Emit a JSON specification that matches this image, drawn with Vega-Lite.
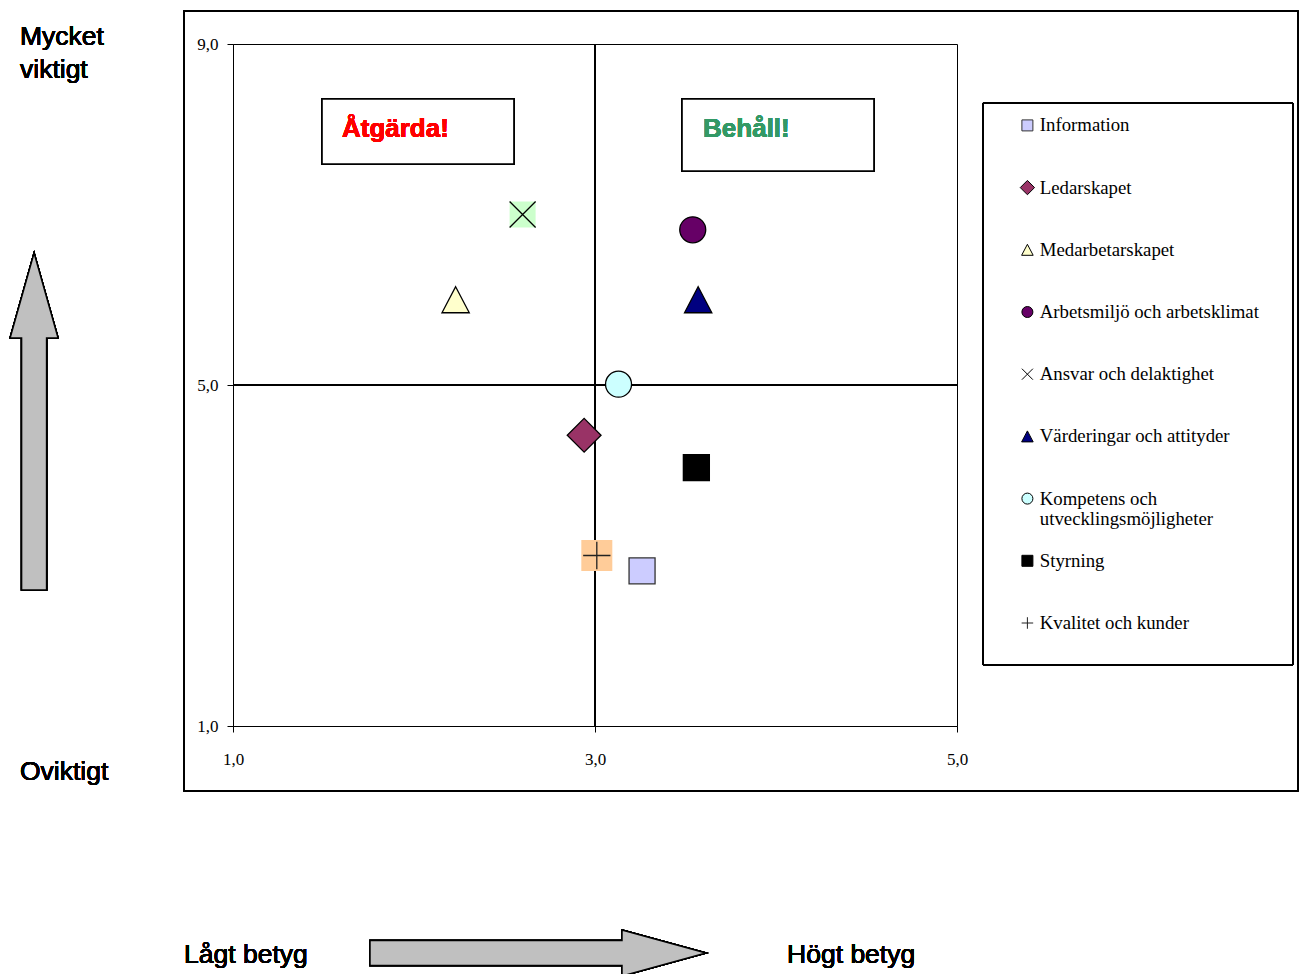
{
  "$schema": "https://vega.github.io/schema/vega-lite/v6.json",
  "autosize": {"type": "none"},
  "width": 724,
  "height": 682,
  "padding": {"left": 233, "top": 44, "right": 343, "bottom": 248},
  "background": "white",
  "config": {
    "view": {"stroke": "black", "strokeWidth": 1},
    "axis": {
      "grid": false,
      "domainColor": "black",
      "tickColor": "black",
      "labelColor": "black",
      "labelFont": "Liberation Serif",
      "labelFontSize": 17,
      "labelFlush": false,
      "title": null
    },
    "legend": {
      "orient": "none",
      "legendX": 785,
      "legendY": 72,
      "title": null,
      "padding": 0,
      "labelFont": "Liberation Serif",
      "labelFontSize": 18.8,
      "labelColor": "black",
      "labelLimit": 400,
      "labelOffset": 3,
      "symbolSize": 121,
      "symbolStrokeWidth": 1,
      "rowPadding": 22.2,
      "gridAlign": "all"
    }
  },
  "data": {
    "values": [
      {"name": "Information", "betyg": 3.26, "vikt": 2.82},
      {"name": "Ledarskapet", "betyg": 2.94, "vikt": 4.41},
      {"name": "Medarbetarskapet", "betyg": 2.23, "vikt": 6.0},
      {"name": "Arbetsmiljö och arbetsklimat", "betyg": 3.54, "vikt": 6.82},
      {"name": "Ansvar och delaktighet", "betyg": 2.6, "vikt": 7.0},
      {"name": "Värderingar och attityder", "betyg": 3.57, "vikt": 6.0},
      {"name": "Kompetens och utvecklingsmöjligheter", "betyg": 3.13, "vikt": 5.01},
      {"name": "Styrning", "betyg": 3.56, "vikt": 4.03},
      {"name": "Kvalitet och kunder", "betyg": 3.01, "vikt": 3.0}
    ]
  },
  "layer": [
    {
      "mark": {"type": "rect", "fill": null, "stroke": "black", "strokeWidth": 1.2},
      "encoding": {
        "x": {"datum": 0.729, "type": "quantitative", "scale": {"domain": [1, 5], "nice": false, "zero": false}, "axis": {"values": [1, 3, 5], "tickSize": 6, "labelPadding": 19, "labelExpr": "replace(format(datum.value, '.1f'), '.', ',')"}},
        "x2": {"datum": 6.884},
        "y": {"datum": 9.387, "type": "quantitative", "scale": {"domain": [1, 9], "nice": false, "zero": false}, "axis": {"values": [1, 5, 9], "tickSize": 6, "labelPadding": 9, "labelExpr": "replace(format(datum.value, '.1f'), '.', ',')"}},
        "y2": {"datum": 0.238}
      }
    },
    {
      "mark": {"type": "rect", "fill": null, "stroke": "black", "strokeWidth": 1},
      "encoding": {
        "x": {"datum": 5.1436, "type": "quantitative"},
        "x2": {"datum": 6.856},
        "y": {"datum": 8.308, "type": "quantitative"},
        "y2": {"datum": 1.716}
      }
    },
    {
      "mark": {"type": "rule", "color": "black", "strokeWidth": 1},
      "encoding": {
        "x": {"datum": 3, "type": "quantitative"},
        "y": {"datum": 1, "type": "quantitative"},
        "y2": {"datum": 9}
      }
    },
    {
      "mark": {"type": "rule", "color": "black", "strokeWidth": 1},
      "encoding": {
        "y": {"datum": 5, "type": "quantitative"},
        "x": {"datum": 1, "type": "quantitative"},
        "x2": {"datum": 5}
      }
    },
    {
      "mark": {"type": "rect", "fill": "white", "stroke": "black", "strokeWidth": 1.5},
      "encoding": {
        "x": {"datum": 1.492, "type": "quantitative"},
        "x2": {"datum": 2.552},
        "y": {"datum": 8.355, "type": "quantitative"},
        "y2": {"datum": 7.592}
      }
    },
    {
      "mark": {"type": "rect", "fill": "white", "stroke": "black", "strokeWidth": 1.5},
      "encoding": {
        "x": {"datum": 3.481, "type": "quantitative"},
        "x2": {"datum": 4.541},
        "y": {"datum": 8.355, "type": "quantitative"},
        "y2": {"datum": 7.51}
      }
    },
    {
      "mark": {"type": "text", "text": "Åtgärda!", "color": "#FF0000", "font": "Liberation Sans", "fontSize": 26, "fontWeight": "bold", "align": "left", "baseline": "alphabetic"},
      "encoding": {
        "x": {"datum": 1.602, "type": "quantitative"},
        "y": {"datum": 7.909, "type": "quantitative"}
      }
    },
    {
      "mark": {"type": "text", "text": "Behåll!", "color": "#339966", "font": "Liberation Sans", "fontSize": 26, "fontWeight": "bold", "align": "left", "baseline": "alphabetic"},
      "encoding": {
        "x": {"datum": 3.597, "type": "quantitative"},
        "y": {"datum": 7.909, "type": "quantitative"}
      }
    },
    {
      "mark": {"type": "text", "text": ["Mycket", "viktigt"], "lineHeight": 33, "color": "black", "font": "Liberation Sans", "fontSize": 26.5, "fontWeight": "normal", "align": "left", "baseline": "alphabetic"},
      "encoding": {
        "x": {"datum": -0.1768, "type": "quantitative"},
        "y": {"datum": 8.988, "type": "quantitative"}
      }
    },
    {
      "mark": {"type": "text", "text": "Oviktigt", "color": "black", "font": "Liberation Sans", "fontSize": 26.5, "fontWeight": "normal", "align": "left", "baseline": "alphabetic"},
      "encoding": {
        "x": {"datum": -0.1768, "type": "quantitative"},
        "y": {"datum": 0.367, "type": "quantitative"}
      }
    },
    {
      "mark": {"type": "text", "text": "Lågt betyg", "color": "black", "font": "Liberation Sans", "fontSize": 26.5, "fontWeight": "normal", "align": "left", "baseline": "alphabetic"},
      "encoding": {
        "x": {"datum": 0.7293, "type": "quantitative"},
        "y": {"datum": -1.78, "type": "quantitative"}
      }
    },
    {
      "mark": {"type": "text", "text": "Högt betyg", "color": "black", "font": "Liberation Sans", "fontSize": 26.5, "fontWeight": "normal", "align": "left", "baseline": "alphabetic"},
      "encoding": {
        "x": {"datum": 4.061, "type": "quantitative"},
        "y": {"datum": -1.78, "type": "quantitative"}
      }
    },
    {
      "mark": {"type": "point", "filled": true, "fill": "#C0C0C0", "stroke": "black", "strokeWidth": 1.5, "opacity": 1, "size": 113569, "shape": "M0,-1L0.1424,-0.4955L0.0742,-0.4955L0.0742,1L-0.0742,1L-0.0742,-0.4955L-0.1424,-0.4955Z"},
      "encoding": {
        "x": {"datum": -0.099, "type": "quantitative"},
        "y": {"datum": 4.572, "type": "quantitative"}
      }
    },
    {
      "mark": {"type": "point", "filled": true, "fill": "#C0C0C0", "stroke": "black", "strokeWidth": 1.5, "opacity": 1, "size": 112896, "shape": "M1,0L0.5,-0.137L0.5,-0.074L-1,-0.074L-1,0.074L0.5,0.074L0.5,0.137Z"},
      "encoding": {
        "x": {"datum": 2.685, "type": "quantitative"},
        "y": {"datum": -1.663, "type": "quantitative"}
      }
    },
    {
      "transform": [{"filter": "datum.name === 'Ansvar och delaktighet' || datum.name === 'Kvalitet och kunder'"}],
      "mark": {"type": "point", "filled": true, "shape": "square", "strokeWidth": 0, "opacity": 1},
      "encoding": {
        "x": {"field": "betyg", "type": "quantitative"},
        "y": {"field": "vikt", "type": "quantitative"},
        "fill": {"condition": {"test": "datum.name === 'Ansvar och delaktighet'", "value": "#CCFFCC"}, "value": "#FFCC99"},
        "size": {"condition": {"test": "datum.name === 'Ansvar och delaktighet'", "value": 676}, "value": 961}
      }
    },
    {
      "mark": {"type": "point", "filled": true, "size": 676, "strokeWidth": 1.3, "opacity": 1},
      "encoding": {
        "x": {"field": "betyg", "type": "quantitative"},
        "y": {"field": "vikt", "type": "quantitative"},
        "shape": {
          "field": "name", "type": "nominal",
          "scale": {
            "domain": ["Information", "Ledarskapet", "Medarbetarskapet", "Arbetsmiljö och arbetsklimat", "Ansvar och delaktighet", "Värderingar och attityder", "Kompetens och utvecklingsmöjligheter", "Styrning", "Kvalitet och kunder"],
            "range": ["square", "M0,-1.3L1.3,0L0,1.3L-1.3,0Z", "M0,-1L1.05,1L-1.05,1Z", "circle", "M-1,-1L1,1M1,-1L-1,1", "M0,-1L1.05,1L-1.05,1Z", "circle", "square", "M-1.05,0H1.05M0,-1.05V1.05"]
          },
          "legend": {"labelExpr": "datum.label === 'Kompetens och utvecklingsmöjligheter' ? ['Kompetens och', 'utvecklingsmöjligheter'] : datum.label"}
        },
        "fill": {
          "field": "name", "type": "nominal",
          "scale": {
            "domain": ["Information", "Ledarskapet", "Medarbetarskapet", "Arbetsmiljö och arbetsklimat", "Ansvar och delaktighet", "Värderingar och attityder", "Kompetens och utvecklingsmöjligheter", "Styrning", "Kvalitet och kunder"],
            "range": ["#CCCCFF", "#993366", "#FFFFCC", "#660066", "#CCFFCC", "#000080", "#CCFFFF", "#000000", "#FFCC99"]
          },
          "legend": {"labelExpr": "datum.label === 'Kompetens och utvecklingsmöjligheter' ? ['Kompetens och', 'utvecklingsmöjligheter'] : datum.label"}
        },
        "stroke": {
          "field": "name", "type": "nominal",
          "scale": {
            "domain": ["Information", "Ledarskapet", "Medarbetarskapet", "Arbetsmiljö och arbetsklimat", "Ansvar och delaktighet", "Värderingar och attityder", "Kompetens och utvecklingsmöjligheter", "Styrning", "Kvalitet och kunder"],
            "range": ["#333333", "#000000", "#000000", "#000000", "#000000", "#000000", "#000000", "#000000", "#222222"]
          },
          "legend": {"labelExpr": "datum.label === 'Kompetens och utvecklingsmöjligheter' ? ['Kompetens och', 'utvecklingsmöjligheter'] : datum.label"}
        }
      }
    }
  ]
}
